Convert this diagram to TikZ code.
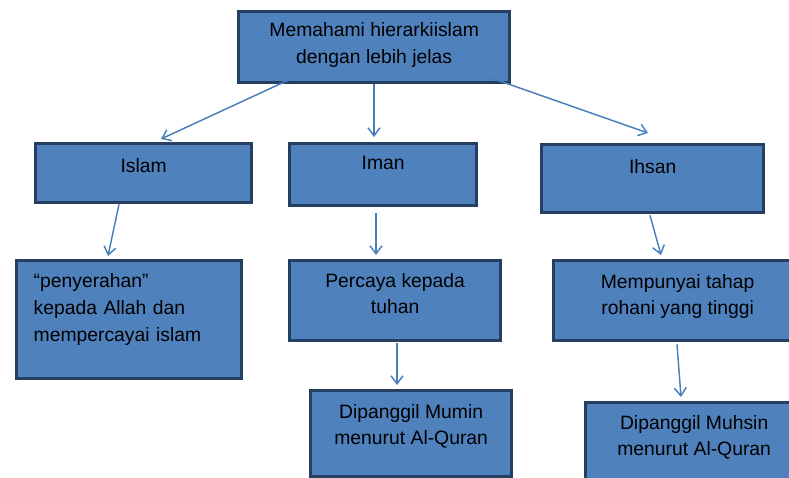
\documentclass[tikz,border=0pt]{standalone}
\usepackage{fontspec}
\setmainfont{Liberation Sans}
\usetikzlibrary{arrows.meta}
\definecolor{boxfill}{HTML}{4F81BD}
\definecolor{boxline}{HTML}{253F62}
\definecolor{linkcol}{HTML}{4A7EBB}
\tikzset{
  box/.style={draw=boxline, fill=boxfill, line width=2.5pt, anchor=north west,
    align=center, inner xsep=0pt, inner ysep=0pt,
    font=\fontsize{14.5}{20}\selectfont},
  link/.style={draw=linkcol, line width=1.1pt,
    -{Straight Barb[length=6pt,width=9pt]}}
}
\begin{document}
\begin{tikzpicture}[x=0.75pt,y=-0.75pt]
\useasboundingbox (0,0) rectangle (789,478);
\clip (0,0) rectangle (789,478);
% boxes
\node[box, minimum width=203.25pt, text height=39pt, text depth=14.25pt] (top) at (237,10) {Memahami hierarkiislam\\dengan lebih jelas};
\node[box, minimum width=162pt, text height=21.75pt, text depth=22.5pt] (islam) at (34,142) {Islam};
\node[box, minimum width=140.25pt, text height=19.5pt, text depth=27pt] (iman) at (288,142) {Iman};
\node[box, minimum width=166.5pt, text height=21.75pt, text depth=29.25pt] (ihsan) at (540,143) {Ihsan};
\node[box, align=left, text width=143.25pt, inner xsep=12.75pt, text height=20.25pt, text depth=68.25pt] (serah) at (15,259) {“penyerahan”\\kepada Allah dan\\mempercayai islam};
\node[box, minimum width=158.25pt, text height=39.75pt, text depth=20.25pt] (percaya) at (288,259) {Percaya kepada\\tuhan};
\node[box, minimum width=150.75pt, text height=40.5pt, text depth=24pt] (mumin) at (309,389) {Dipanggil Mumin\\menurut Al-Quran};
\node[box, minimum width=186pt, text height=40.5pt, text depth=19.5pt] (rohani) at (552,259) {Mempunyai tahap\\rohani yang tinggi};
\node[box, minimum width=162.75pt, text height=39.75pt, text depth=27pt] (muhsin) at (584,401) {Dipanggil Muhsin\\menurut Al-Quran};
% links
\draw[link] ([shift={(66,-11)}]top.south west) -- ([shift={(127,-3)}]islam.north west);
\draw[link] ([shift={(137,0)}]top.south west) -- ([shift={(86,-5)}]iman.north west);
\draw[link] ([shift={(238,-12)}]top.south west) -- ([shift={(108,-10)}]ihsan.north west);
\draw[link] ([shift={(85,0)}]islam.south west) -- ([shift={(93,-3)}]serah.north west);
\draw[link] ([shift={(88,6)}]iman.south west) -- ([shift={(88,-4)}]percaya.north west);
\draw[link] ([shift={(110,1)}]ihsan.south west) -- ([shift={(109,-4)}]rohani.north west);
\draw[link] ([shift={(109,1)}]percaya.south west) -- ([shift={(88,-4)}]mumin.north west);
\draw[link] ([shift={(125,2)}]rohani.south west) -- ([shift={(97,-4)}]muhsin.north west);
\end{tikzpicture}
\end{document}
